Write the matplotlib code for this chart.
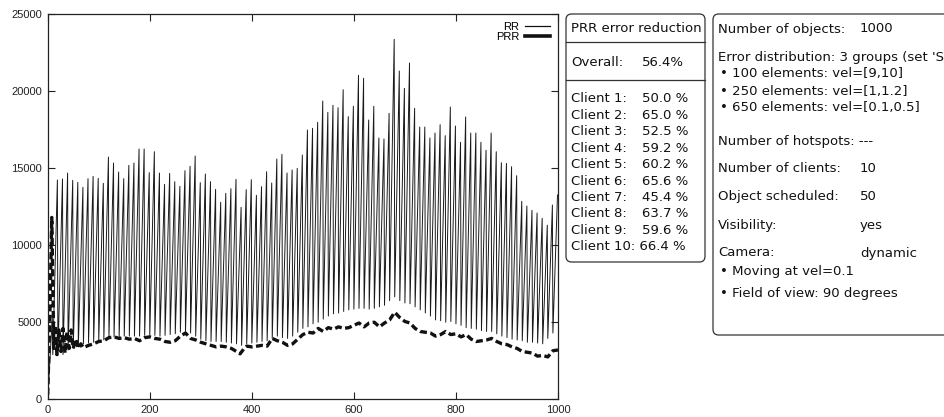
import numpy as np
import matplotlib
matplotlib.use("Agg")
import matplotlib.pyplot as plt
from matplotlib.patches import FancyBboxPatch
from matplotlib.lines import Line2D

# ---------------- data ----------------
rr_trough_x = np.arange(0, 1000, 10)
rr_peak_x = rr_trough_x + 9

rr_troughs = [
    0, 2900, 2850, 2900, 3200, 3300, 3400, 3600, 3650, 3700,
    3800, 3850, 4000, 4050, 4050, 4100, 4100, 4100, 4100, 4150,
    4150, 4150, 4100, 4150, 4200, 4250, 4350, 4400, 4300, 4100,
    3900, 3800, 3750, 3750, 3750, 3700, 3650, 3600, 3500, 3600,
    3650, 3700, 3750, 3800, 3950, 4100, 4000, 3950, 4100, 4350,
    4600, 4700, 4900, 5000, 5200, 5400, 5550, 5600, 5700, 5800,
    5850, 5900, 5900, 5850, 5900, 6000, 6100, 6400, 6650, 6400,
    6250, 6200, 6000, 5800, 5600, 5400, 5150, 5100, 5000, 5050,
    4900, 4800, 4650, 4600, 4550, 4450, 4400, 4400, 4250, 4100,
    4000, 3900, 3850, 3800, 3700, 3700, 3650, 3600, 3950, 4300,
]

rr_peaks = [
    5300,
    14229, 14294, 14683, 14208, 14078, 13754, 14316, 14467, 14337, 14013,
    15721, 15332, 14748, 14316, 15181, 15332, 16241, 16241, 14705, 16066,
    14683, 13948, 14661, 14121, 13819, 14835, 15116, 15786, 14056, 14618,
    14121, 13624, 12780, 13365, 13667, 14273, 12457, 13602, 14251, 13235,
    13797, 14770, 14035, 15591, 15894, 14683, 14878, 14986, 15851, 17473,
    17584, 17973,
    19355, 18622, 19076, 18921, 20089, 18341, 19011, 21022, 20828, 18124,
    19011, 16955, 16890, 18557, 23358, 21302, 20176, 21821, 18881, 17668,
    17668, 16955, 17279, 17819, 17106, 18965, 17733, 16675, 18319, 17279,
    17279, 16675, 16156, 17279, 16066, 15352, 15310, 15093, 14510, 12847,
    12542,
    12261, 12088, 11743, 11300, 12607, 13256,
]

prr_x = [0, 4, 8, 12, 15, 18, 22, 26, 30, 34, 38, 42, 46, 50, 55, 60, 65, 70,
         80, 90, 100, 110, 120, 130, 140, 150, 160, 170, 180, 190, 200, 210,
         220, 230, 240, 250, 260, 270, 280, 290, 300, 310, 320, 330, 340, 350,
         360, 370, 377, 385, 390, 400, 410, 420, 430, 440, 450, 460, 470, 480,
         490, 500, 510, 520, 530, 540, 550, 560, 570, 580, 590, 600, 610, 620,
         630, 640, 650, 660, 670, 680, 690, 700, 710, 720, 730, 740, 750, 760,
         770, 780, 790, 800, 810, 820, 830, 840, 850, 860, 870, 880, 890, 900,
         910, 920, 930, 940, 950, 960, 970, 980, 990, 1000]
prr_y = [300, 5000, 11800, 3300, 4800, 2900, 4500, 3100, 4600, 3000, 4400, 3300,
         4500, 3300, 3900, 3300, 3600, 3350,
         3500, 3600, 3750, 3800, 4000, 4050, 3950, 4000, 3900, 3950, 3800, 4000,
         4050, 3950, 3900, 3750, 3700, 3800, 4100, 4300, 3950, 3850, 3700, 3600,
         3500, 3400, 3450, 3400, 3300, 3100, 2950, 3300, 3450, 3400, 3450, 3500,
         3450, 3950, 3800, 3700, 3500, 3600, 3900, 4200, 4350, 4300, 4600, 4400,
         4650, 4550, 4700, 4600, 4650, 4800, 4950, 4700, 4950, 5000, 4700, 4950,
         5150, 5650, 5300, 5050, 4950, 4600, 4400, 4350, 4300, 4100, 4200, 4400,
         4200, 4250, 4050, 4200, 3900, 3750, 3800, 3850, 3950, 3750, 3600, 3550,
         3400, 3300, 3100, 3050, 3000, 2800, 2850, 2750, 3150, 3200]

x_ticks = [0, 200, 400, 600, 800, 1000]
y_ticks = [0, 5000, 10000, 15000, 20000, 25000]

series_labels = ["RR", "PRR"]

reduction_title = "PRR error reduction"
overall_label = "Overall:"
overall_value = "56.4%"
client_labels = ["Client 1:", "Client 2:", "Client 3:", "Client 4:", "Client 5:",
                 "Client 6:", "Client 7:", "Client 8:", "Client 9:"]
client_values = ["50.0 %", "65.0 %", "52.5 %", "59.2 %", "60.2 %",
                 "65.6 %", "45.4 %", "63.7 %", "59.6 %"]
client10_text = "Client 10: 66.4 %"

info_rows = [
    ("Number of objects:", "1000"),
    ("Error distribution: 3 groups (set 'S", ""),
    ("\u2022 100 elements: vel=[9,10]", ""),
    ("\u2022 250 elements: vel=[1,1.2]", ""),
    ("\u2022 650 elements: vel=[0.1,0.5]", ""),
    ("Number of hotspots: ---", ""),
    ("Number of clients:", "10"),
    ("Object scheduled:", "50"),
    ("Visibility:", "yes"),
    ("Camera:", "dynamic"),
    ("\u2022 Moving at vel=0.1", ""),
    ("\u2022 Field of view: 90 degrees", ""),
]

# ---------------- figure ----------------
W, H = 944, 417
plt.rcParams['lines.scale_dashes'] = False
fig = plt.figure(figsize=(W / 100, H / 100), dpi=100)

def fx(px):
    return px / W

def fy(py):
    return 1 - py / H

ax_l, ax_r, ax_t, ax_b = 47.7, 558, 14, 399.3
ax = fig.add_axes([fx(ax_l), fy(ax_b), fx(ax_r) - fx(ax_l), fy(ax_t) - fy(ax_b)])

# RR sawtooth built from troughs/peaks
rr_x = np.empty(2 * len(rr_trough_x))
rr_y = np.empty(2 * len(rr_trough_x))
rr_x[0::2] = rr_trough_x
rr_x[1::2] = rr_peak_x
rr_y[0::2] = rr_troughs
rr_y[1::2] = rr_peaks

ax.plot(rr_x, rr_y, color='#1a1a1a', lw=0.7, label=series_labels[0])
ax.plot(prr_x, prr_y, color='#111111', lw=2.4, dashes=(5, 2.5),
        solid_capstyle='butt', dash_capstyle='butt', label=series_labels[1])

ax.set_xlim(0, 1000)
ax.set_ylim(0, 25000)
ax.set_xticks(x_ticks)
ax.set_yticks(y_ticks)
tick_font = ['Liberation Sans', 'DejaVu Sans']
for lab in ax.get_xticklabels() + ax.get_yticklabels():
    lab.set_family(tick_font)
    lab.set_fontsize(8)
ax.tick_params(direction='in', length=5, width=0.8, top=True, right=True,
               colors='#222222', labelcolor='#222222', pad=4)
for s in ax.spines.values():
    s.set_linewidth(0.9)
    s.set_color('#222222')

handles = [Line2D([], [], color='#111111', lw=0.9),
           Line2D([], [], color='#111111', lw=2.6)]
leg = ax.legend(handles, series_labels, loc='upper right', frameon=False,
                markerfirst=False, handlelength=2.3, handletextpad=0.5,
                labelspacing=0.0, borderaxespad=0.3,
                prop={'family': tick_font, 'size': 8})

# ---------------- text boxes ----------------
box_font = ['DejaVu Sans']
fs = 9.5
edge = '#333333'

def rbox(x0, y0, x1, y1):
    p = FancyBboxPatch((fx(x0), fy(y1)), fx(x1) - fx(x0), fy(y0) - fy(y1),
                       boxstyle="round,pad=0,rounding_size=0.006",
                       transform=fig.transFigure, fc='white', ec=edge, lw=0.9,
                       mutation_aspect=W / H)
    fig.add_artist(p)

def hline(x0, x1, y):
    fig.add_artist(Line2D([fx(x0), fx(x1)], [fy(y), fy(y)],
                          transform=fig.transFigure, color=edge, lw=0.9))

def txt(x, y, s):
    fig.text(fx(x), fy(y), s, ha='left', va='center', family=box_font,
             fontsize=fs, color='#111111')

# Box 1
rbox(566, 14, 705, 262)
hline(566, 705, 42)
hline(566, 705, 80)
txt(571, 29, reduction_title)
txt(571, 62, overall_label)
txt(642, 62, overall_value)
row_y = 99
for lab, val in zip(client_labels, client_values):
    txt(571, row_y, lab)
    txt(642, row_y, val)
    row_y += 16.4
txt(571, row_y, client10_text)

# Box 2
rbox(713, 14, 960, 335)
info_y = [29, 57, 74, 91, 108, 141, 169, 197, 226, 253, 271, 293]
for (lab, val), yy in zip(info_rows, info_y):
    x0 = 720 if lab.startswith('\u2022') else 718
    txt(x0, yy, lab)
    if val:
        txt(860, yy, val)

fig.savefig("out.png", dpi=100)
